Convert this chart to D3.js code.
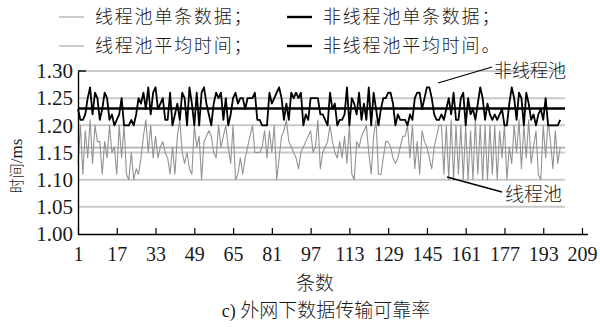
<!DOCTYPE html>
<html>
<head>
<meta charset="utf-8">
<script src="https://cdn.jsdelivr.net/npm/d3@7"></script>
<style>
  html, body { margin: 0; padding: 0; background: #fff; }
  svg { display: block; }
</style>
</head>
<body>
<svg id="chart" width="600" height="327"></svg>
<script>
// ---------------- data ----------------
const nonPoolValues = [
  1.23,1.21,1.21,1.22,1.25,1.27,1.22,1.26,1.25,1.21,
  1.23,1.26,1.25,1.21,1.22,1.20,1.21,1.22,1.25,1.20,
  1.20,1.20,1.21,1.20,1.22,1.25,1.24,1.26,1.23,1.27,
  1.22,1.26,1.27,1.23,1.24,1.25,1.21,1.21,1.26,1.20,
  1.22,1.24,1.21,1.26,1.25,1.20,1.27,1.24,1.20,1.26,
  1.20,1.26,1.27,1.24,1.22,1.20,1.24,1.26,1.25,1.26,
  1.21,1.25,1.20,1.22,1.25,1.26,1.24,1.25,1.25,1.23,
  1.25,1.25,1.25,1.26,1.21,1.21,1.20,1.20,1.20,1.26,
  1.24,1.25,1.26,1.27,1.25,1.21,1.24,1.21,1.26,1.25,
  1.26,1.25,1.26,1.20,1.22,1.21,1.25,1.25,1.25,1.25,
  1.22,1.22,1.21,1.20,1.26,1.23,1.24,1.20,1.21,1.21,
  1.22,1.27,1.20,1.25,1.24,1.22,1.26,1.21,1.24,1.21,
  1.27,1.20,1.26,1.23,1.20,1.23,1.25,1.25,1.26,1.26,
  1.24,1.20,1.22,1.21,1.21,1.21,1.20,1.22,1.21,1.25,
  1.26,1.26,1.23,1.25,1.27,1.27,1.25,1.22,1.21,1.21,
  1.22,1.21,1.23,1.25,1.22,1.26,1.21,1.21,1.25,1.26,
  1.20,1.25,1.22,1.23,1.21,1.24,1.27,1.25,1.21,1.24,
  1.22,1.21,1.22,1.21,1.22,1.23,1.20,1.20,1.24,1.27,
  1.25,1.21,1.26,1.25,1.20,1.26,1.24,1.21,1.22,1.20,
  1.22,1.23,1.21,1.25,1.20,1.20,1.20,1.20,1.20,1.21
];
const poolValues = [
  1.13,1.20,1.11,1.19,1.14,1.21,1.13,1.20,1.17,1.17,
  1.11,1.17,1.14,1.20,1.15,1.16,1.11,1.20,1.14,1.20,
  1.11,1.10,1.15,1.10,1.12,1.11,1.14,1.18,1.21,1.15,
  1.20,1.14,1.18,1.14,1.16,1.17,1.15,1.14,1.11,1.16,
  1.11,1.18,1.21,1.15,1.13,1.15,1.12,1.11,1.20,1.16,
  1.18,1.10,1.17,1.18,1.19,1.18,1.15,1.14,1.20,1.16,
  1.18,1.20,1.16,1.13,1.20,1.10,1.11,1.14,1.11,1.14,
  1.16,1.18,1.20,1.15,1.15,1.15,1.16,1.19,1.14,1.19,
  1.15,1.20,1.10,1.14,1.18,1.19,1.21,1.17,1.16,1.15,
  1.14,1.12,1.15,1.16,1.17,1.18,1.19,1.15,1.16,1.21,
  1.12,1.15,1.16,1.17,1.20,1.17,1.15,1.14,1.17,1.14,
  1.18,1.13,1.20,1.11,1.10,1.17,1.16,1.18,1.19,1.20,
  1.15,1.11,1.18,1.21,1.11,1.11,1.14,1.17,1.17,1.16,
  1.14,1.13,1.14,1.16,1.18,1.18,1.20,1.14,1.20,1.12,
  1.17,1.11,1.19,1.17,1.16,1.14,1.12,1.16,1.18,1.20,
  1.20,1.11,1.20,1.10,1.21,1.10,1.20,1.11,1.20,1.10,
  1.20,1.10,1.19,1.10,1.21,1.11,1.20,1.10,1.20,1.10,
  1.20,1.11,1.20,1.10,1.19,1.14,1.20,1.10,1.16,1.13,
  1.20,1.15,1.21,1.12,1.20,1.14,1.21,1.13,1.16,1.19,
  1.11,1.10,1.20,1.14,1.21,1.17,1.12,1.19,1.13,1.16
];
const recordNumbers = nonPoolValues.map((_, i) => i + 1);
const meanLabels = ["线程池平均时间", "非线程池平均时间"];
const meanValues = [1.159, 1.231];
const xTickValues = [1, 17, 33, 49, 65, 81, 97, 113, 129, 145, 161, 177, 193, 209];
const yTickValues = [1.00, 1.05, 1.10, 1.15, 1.20, 1.25, 1.30];
const legendLabels = ["线程池单条数据；", "非线程池单条数据；", "线程池平均时间；", "非线程池平均时间。"];
const xTitle = "条数";
const yTitleCjk = "时间";
const yTitleUnit = "/ms";
const chartTitlePrefix = "c) ";
const chartTitle = "外网下数据传输可靠率";
const annotationLabels = ["非线程池", "线程池"];

// ---------------- layout ----------------
const svg = d3.select("#chart");
const mLeft = 78, mRight = 582, mTop = 71, mBottom = 234, gridEnd = 565;
const x = d3.scaleLinear().domain([1, 209]).range([mLeft, mRight]);
const y = d3.scaleLinear().domain([1.00, 1.30]).range([mBottom, mTop]);

const cjk = "'Noto Sans CJK SC', 'Noto Sans', sans-serif";
const serif = "'Liberation Serif', 'DejaVu Serif', serif";
const grayLine = "#939393";
const gridColor = "#c9c9c9";
const textColor = "#1a1a1a";

// gridlines
svg.append("g").selectAll("line").data(yTickValues.filter(v => v > 1.0))
  .join("line")
  .attr("x1", mLeft).attr("x2", gridEnd)
  .attr("y1", d => y(d)).attr("y2", d => y(d))
  .attr("stroke", gridColor).attr("stroke-width", 2);

// pool mean line
svg.append("line")
  .attr("x1", mLeft).attr("x2", gridEnd)
  .attr("y1", y(meanValues[0])).attr("y2", y(meanValues[0]))
  .attr("stroke", "#b0b0b0").attr("stroke-width", 1.6);

// series
const line = d3.line().x((d, i) => x(recordNumbers[i])).y(d => y(d));
svg.append("path").datum(poolValues)
  .attr("d", line).attr("fill", "none")
  .attr("stroke", grayLine).attr("stroke-width", 1.1).attr("stroke-linejoin", "round");
svg.append("path").datum(nonPoolValues)
  .attr("d", line).attr("fill", "none")
  .attr("stroke", "#000").attr("stroke-width", 1.8).attr("stroke-linejoin", "round");

svg.append("line")
  .attr("x1", mLeft).attr("x2", gridEnd)
  .attr("y1", y(meanValues[1])).attr("y2", y(meanValues[1]))
  .attr("stroke", "#000").attr("stroke-width", 2.4);

// axes
const xAxis = d3.axisBottom(x).tickValues(xTickValues).tickSize(-6).tickPadding(13)
  .tickFormat(d3.format("d"));
const gx = svg.append("g").attr("transform", `translate(0,${mBottom})`).call(xAxis);
gx.select(".domain").attr("d", `M${mLeft},0.5H${mRight + 6}`).attr("stroke", "#000").attr("stroke-width", 1.4);
gx.selectAll(".tick line").attr("stroke", "#000").attr("stroke-width", 1.2);
gx.selectAll(".tick text").attr("font-family", serif).attr("font-size", 20).attr("fill", textColor);

const yAxis = d3.axisLeft(y).tickValues(yTickValues).tickSize(0).tickPadding(5)
  .tickFormat(d3.format(".2f"));
const gy = svg.append("g").attr("transform", `translate(${mLeft},0)`).call(yAxis);
gy.select(".domain").attr("stroke", "#000").attr("stroke-width", 1.4);
gy.selectAll(".tick text").attr("font-family", serif).attr("font-size", 21).attr("fill", textColor);
svg.append("line").attr("x1", mLeft).attr("x2", mLeft + 8)
  .attr("y1", y(1.30)).attr("y2", y(1.30)).attr("stroke", "#000").attr("stroke-width", 1.4);

// axis titles
svg.append("text").attr("x", 315).attr("y", 290)
  .attr("text-anchor", "middle").attr("font-family", cjk).attr("font-weight", 300)
  .attr("font-size", 19).attr("fill", textColor)
  .text(xTitle);
const yt = svg.append("text").attr("transform", `translate(22,166) rotate(-90)`)
  .attr("text-anchor", "middle").attr("fill", textColor);
yt.append("tspan").attr("font-family", cjk).attr("font-weight", 300).attr("font-size", 15).text(yTitleCjk);
yt.append("tspan").attr("font-family", serif).attr("font-size", 17).text(yTitleUnit);
const tt = svg.append("text").attr("x", 326).attr("y", 317)
  .attr("text-anchor", "middle").attr("fill", textColor);
tt.append("tspan").attr("font-family", serif).attr("font-size", 18).text(chartTitlePrefix);
tt.append("tspan").attr("font-family", cjk).attr("font-weight", 300).attr("font-size", 19).text(chartTitle);

// legend
const legendItems = [
  { label: legendLabels[0], color: "#aaa", w: 1.2, lx: 59, ty: 17 },
  { label: legendLabels[1], color: "#000", w: 2.4, lx: 287, ty: 17 },
  { label: legendLabels[2], color: "#aaa", w: 1.2, lx: 59, ty: 46 },
  { label: legendLabels[3], color: "#000", w: 2.4, lx: 287, ty: 46 }
];
const lg = svg.append("g").selectAll("g").data(legendItems).join("g");
lg.append("line")
  .attr("x1", d => d.lx).attr("x2", d => d.lx + 25)
  .attr("y1", d => d.ty).attr("y2", d => d.ty)
  .attr("stroke", d => d.color).attr("stroke-width", d => d.w);
lg.append("text")
  .attr("x", d => d.lx + 36).attr("y", d => d.ty)
  .attr("dy", "0.35em")
  .attr("font-family", cjk).attr("font-weight", 300).attr("font-size", 18)
  .attr("letter-spacing", 1.8).attr("fill", textColor)
  .text(d => d.label);

// annotations
svg.append("line").attr("x1", 438).attr("y1", 83).attr("x2", 492).attr("y2", 67)
  .attr("stroke", "#000").attr("stroke-width", 1.3);
svg.append("text").attr("x", 494).attr("y", 71).attr("dy", "0.35em")
  .attr("font-family", cjk).attr("font-weight", 300).attr("font-size", 18)
  .attr("fill", textColor).text(annotationLabels[0]);
svg.append("line").attr("x1", 447).attr("y1", 177).attr("x2", 502).attr("y2", 192)
  .attr("stroke", "#000").attr("stroke-width", 1.3);
svg.append("text").attr("x", 505).attr("y", 194).attr("dy", "0.35em")
  .attr("font-family", cjk).attr("font-weight", 300).attr("font-size", 19)
  .attr("fill", textColor).text(annotationLabels[1]);
</script>
</body>
</html>
